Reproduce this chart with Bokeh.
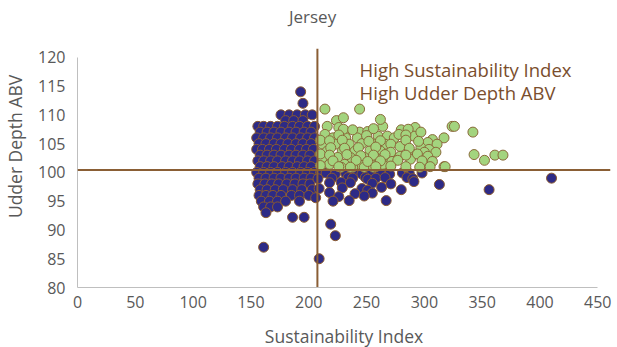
from bokeh.plotting import figure
from bokeh.models import ColumnDataSource, Span, FixedTicker, Label
from bokeh.embed import file_html
from bokeh.resources import INLINE

# ---- data ----
blue_x = [
    176, 183, 190, 197, 203,
    180, 187, 195,
    156, 161, 167, 173, 179, 186, 192, 199, 205,
    158, 164, 170, 176, 183, 189, 196, 202,
    155, 161, 167, 173, 180, 186, 193, 199, 205,
    157, 163, 170, 176, 182, 189, 195, 202,
    155, 160, 166, 172, 179, 185, 192, 198, 204,
    158, 164, 170, 176, 183, 189, 195, 201,
    156, 161, 167, 173, 180, 186, 192, 199, 205,
    158, 164, 170, 177, 183, 190, 196, 202,
    155, 161, 167, 173, 180, 186, 193, 199, 205,
    157, 163, 170, 176, 183, 189, 196, 202,
    156, 162, 168, 174, 181, 188, 195, 201,
    158, 164, 171, 178, 186, 194, 203,
    157, 163, 169, 176, 185, 192, 200,
    159, 166, 173, 180, 192,
    161, 167, 173,
    163,
    193, 195, 161, 186, 196,
    # right of the vertical line, below the horizontal line
    210, 215, 223, 232, 240, 246, 253, 262, 270, 281, 287, 298,
    208, 220, 234, 238, 249, 251, 258, 266, 285, 290,
    218, 228, 236, 255, 271, 291,
    209, 229, 246, 251, 263, 280,
    218, 240, 255,
    206, 226, 248,
    221, 235, 267,
    219, 223, 209,
    313, 356, 410,
]
blue_y = [
    110, 110, 110, 110, 110,
    109, 109, 109,
    108, 108, 108, 108, 108, 108, 108, 108, 108,
    107, 107, 107, 107, 107, 107, 107, 107,
    106, 106, 106, 106, 106, 106, 106, 106, 106,
    105, 105, 105, 105, 105, 105, 105, 105,
    104, 104, 104, 104, 104, 104, 104, 104, 104,
    103, 103, 103, 103, 103, 103, 103, 103,
    102, 102, 102, 102, 102, 102, 102, 102, 102,
    101, 101, 101, 101, 101, 101, 101, 101,
    100, 100, 100, 100, 100, 100, 100, 100, 100,
    99, 99, 99, 99, 99, 99, 99, 99,
    98, 98, 98, 98, 98, 98, 98, 98,
    97, 97, 97, 97, 97, 97, 97,
    96, 96, 96, 96, 96, 96, 96,
    95, 95, 95, 95, 95,
    94, 94, 94,
    93,
    114, 112, 87, 92.2, 92.2,
    99.8, 99.9, 99.7, 99.8, 99.9, 99.7, 99.9, 99.8, 99.7, 99.9, 99.8, 99.9,
    98.9, 99.0, 99.1, 99.0, 99.1, 98.8, 99.0, 99.1, 99.1, 98.9,
    98.2, 98.3, 98.2, 98.1, 98.0, 98.4,
    97.2, 97.3, 97.2, 96.9, 97.4, 97.0,
    96.5, 96.3, 96.4,
    95.6, 95.8, 95.9,
    95.0, 95.1, 95.1,
    91.0, 89.0, 85.0,
    97.9, 97.0, 99.0,
]

green_x = [
    214, 244, 224, 226, 216, 264, 232, 244, 251,
    214, 221, 232, 242, 260, 268,
    212, 223, 235, 246, 257, 266,
    216, 229, 240, 253, 262,
    212, 225, 236, 248, 258, 268,
    218, 231, 244, 254, 264,
    210, 210, 210, 228, 238, 248, 256, 275,
    324, 292, 291, 297, 274, 307, 317,
    303, 311, 271, 279, 297, 304,
    291, 300, 310, 303, 271, 279,
    272, 288, 307, 284, 317,
    326, 342, 343, 352, 361, 368, 318,
    230, 238, 256, 280, 286,
    226, 250, 278, 284,
    218, 229, 252, 262, 284, 295,
    219, 231, 243, 258, 287,
    218, 233, 245, 256, 266, 284, 294,
    221, 241, 251, 262, 277, 298,
    226, 236, 258, 271, 296, 305,
    230, 262,
]
green_y = [
    111, 111, 109, 107.8, 108, 108, 107.1, 107, 107.1,
    106.6, 106, 106, 106, 106.3, 106.3,
    104.9, 104.9, 104.9, 105, 104.9, 104.9,
    103.7, 103.7, 103.7, 103.8, 103.7,
    102.6, 102.6, 102.6, 102.6, 102.6, 102.7,
    101.4, 101.4, 101.4, 101.4, 101.4,
    101.2, 103.2, 105.6, 100.9, 100.9, 100.9, 100.9, 102.2,
    108, 107.8, 106.3, 107, 106, 105.7, 106,
    105.2, 104.9, 104.9, 104.5, 104.3, 104,
    103.1, 103.5, 103.5, 102.8, 103.5, 102.8,
    101.9, 102.3, 101.9, 101, 101,
    108, 107, 103.1, 102.1, 103, 103, 101,
    107.5, 107.4, 107.6, 107.4, 107.5,
    106.5, 106.4, 106.6, 106.5,
    105.5, 105.6, 105.4, 105.5, 105.6, 105.4,
    104.3, 104.2, 104.3, 104.4, 104.2,
    103.0, 103.1, 102.9, 103.0, 103.1, 103.0, 103.2,
    102.0, 102.1, 101.9, 102.0, 102.1, 102.0,
    101.0, 100.9, 101.0, 101.1, 100.9, 101.0,
    109.5, 109.2,
]

x_ticks = [0, 50, 100, 150, 200, 250, 300, 350, 400, 450]
y_ticks = [80, 85, 90, 95, 100, 105, 110, 115, 120]
x_cut = 207.5
y_cut = 100.4
title_text = "Jersey"
label_lines = ["High Sustainability Index", "High Udder Depth ABV"]

FONT = "Open Sans"
GRAY = "#595959"
BROWN = "#8A5E35"

# frame extends up to the top of the page so that the title sits inside it
p = figure(width=605, height=339, output_backend="svg", toolbar_location=None,
           x_range=(0, 461), y_range=(80, 129.0),
           min_border_left=67, min_border_right=5, min_border_top=5,
           min_border_bottom=52)
p.frame_width = 533
p.frame_height = 282

p.xgrid.visible = False
p.ygrid.visible = False
p.outline_line_color = None
p.background_fill_color = "white"
p.border_fill_color = "white"

for ax, ticks, bounds in ((p.xaxis[0], x_ticks, (0, 450)), (p.yaxis[0], y_ticks, (80, 120))):
    ax.ticker = FixedTicker(ticks=ticks)
    ax.bounds = bounds
    ax.axis_line_color = "#BFBFBF"
    ax.axis_line_width = 1
    ax.major_tick_line_color = None
    ax.minor_tick_line_color = None
    ax.major_label_text_font = FONT
    ax.major_label_text_font_size = "16px"
    ax.major_label_text_color = GRAY
    ax.axis_label_text_font = FONT
    ax.axis_label_text_font_size = "17.5px"
    ax.axis_label_text_font_style = "normal"
    ax.axis_label_text_color = GRAY

p.xaxis.axis_label = "Sustainability Index"
p.yaxis.axis_label = "Udder Depth ABV"
p.xaxis.axis_label_standoff = 13
p.yaxis.axis_label_standoff = 8
p.xaxis.major_label_standoff = 2
p.yaxis.major_label_standoff = 6

blue_src = ColumnDataSource(dict(x=blue_x, y=blue_y))
green_src = ColumnDataSource(dict(x=green_x, y=green_y))
p.scatter("x", "y", source=blue_src, size=10, fill_color="#2D2A86",
          line_color="#8B5A2E", line_width=1)
p.scatter("x", "y", source=green_src, size=10, fill_color="#A3D47E",
          line_color="#8B6A3A", line_width=1)

# quadrant lines
p.segment(x0=[x_cut], y0=[80], x1=[x_cut], y1=[121.5], line_color=BROWN, line_width=2)
p.add_layout(Span(location=y_cut, dimension="width", line_color=BROWN, line_width=2))

# chart title
p.add_layout(Label(x=203.3, y=127.1, text=title_text, text_font=FONT,
                   text_font_size="17px", text_color=GRAY,
                   text_baseline="middle", text_align="center"))

for i, t in enumerate(label_lines):
    p.add_layout(Label(x=244, y=117.9 - 4.0 * i, text=t, text_font=FONT,
                       text_font_size="18.5px", text_color="#7A4E2D",
                       text_baseline="middle", text_align="left"))

open("out.html", "w").write(file_html(p, INLINE))
